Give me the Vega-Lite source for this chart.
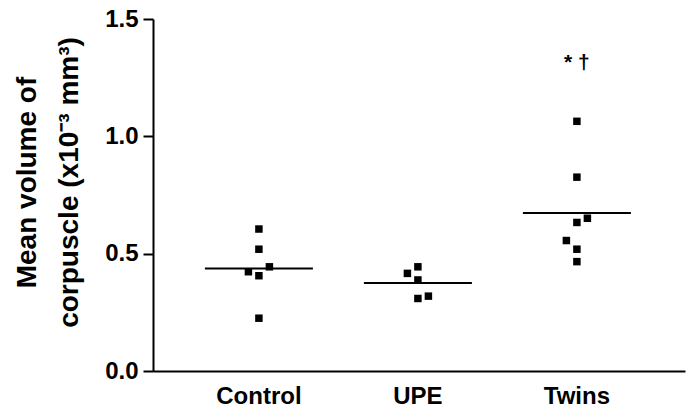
{
  "$schema": "https://vega.github.io/schema/vega-lite/v6.json",
  "width": 532,
  "height": 352,
  "autosize": {"type": "none"},
  "padding": {"left": 153, "top": 19, "right": 6, "bottom": 37},
  "background": "white",
  "config": {"view": {"stroke": null}, "font": "Liberation Sans"},
  "data": {
    "values": [
      {"group": "Control", "value": 0.605, "jitter": 0},
      {"group": "Control", "value": 0.519, "jitter": 0},
      {"group": "Control", "value": 0.444, "jitter": 1},
      {"group": "Control", "value": 0.423, "jitter": -1},
      {"group": "Control", "value": 0.406, "jitter": 0},
      {"group": "Control", "value": 0.225, "jitter": 0},
      {"group": "UPE", "value": 0.444, "jitter": 0},
      {"group": "UPE", "value": 0.416, "jitter": -1},
      {"group": "UPE", "value": 0.388, "jitter": 0},
      {"group": "UPE", "value": 0.319, "jitter": 1},
      {"group": "UPE", "value": 0.309, "jitter": 0},
      {"group": "Twins", "value": 1.064, "jitter": 0},
      {"group": "Twins", "value": 0.826, "jitter": 0},
      {"group": "Twins", "value": 0.651, "jitter": 1},
      {"group": "Twins", "value": 0.633, "jitter": 0},
      {"group": "Twins", "value": 0.556, "jitter": -1},
      {"group": "Twins", "value": 0.519, "jitter": 0},
      {"group": "Twins", "value": 0.466, "jitter": 0}
    ]
  },
  "encoding": {
    "x": {
      "field": "group",
      "type": "nominal",
      "sort": ["Control", "UPE", "Twins"],
      "scale": {"type": "band", "paddingInner": 0, "paddingOuter": 0.173, "align": 0.48},
      "axis": {
        "title": null,
        "labelAngle": 0,
        "ticks": false,
        "tickSize": 0,
        "labelPadding": 13,
        "labelFont": "Liberation Sans",
        "labelFontWeight": "bold",
        "labelFontSize": 24,
        "labelColor": "black",
        "domainColor": "black",
        "domainWidth": 2
      }
    },
    "y": {
      "field": "value",
      "type": "quantitative",
      "scale": {"domain": [0, 1.5], "nice": false, "zero": true},
      "axis": {
        "values": [0, 0.5, 1, 1.5],
        "format": ".1f",
        "grid": false,
        "tickSize": 10,
        "tickWidth": 2,
        "tickColor": "black",
        "domainWidth": 2,
        "domainColor": "black",
        "labelPadding": 5,
        "labelFont": "Liberation Sans",
        "labelFontSize": 24,
        "labelFontWeight": "bold",
        "labelColor": "black",
        "title": ["Mean volume of", "corpuscle (x10⁻³ mm³)"],
        "titleFont": "Liberation Sans",
        "titleFontSize": 28,
        "titleFontWeight": "bold",
        "titleColor": "black",
        "titleLineHeight": 42,
        "titleAngle": 270,
        "titleX": -118,
        "titleY": 163,
        "titleAlign": "center",
        "titleBaseline": "alphabetic"
      }
    }
  },
  "layer": [
    {
      "mark": {"type": "square", "size": 56, "color": "black", "opacity": 1, "filled": true},
      "encoding": {
        "xOffset": {"field": "jitter", "type": "quantitative", "scale": {"domain": [-7.57, 7.57], "nice": false, "zero": false}}
      }
    },
    {
      "mark": {"type": "tick", "color": "black", "thickness": 2, "size": 108, "opacity": 1},
      "encoding": {
        "y": {"aggregate": "mean", "field": "value", "type": "quantitative"}
      }
    },
    {
      "data": {"values": [{"group": "Twins", "value": 1.285, "label": "* †"}]},
      "mark": {"type": "text", "fontSize": 21, "fontWeight": "bold", "baseline": "alphabetic", "color": "black", "font": "Liberation Sans"},
      "encoding": {"text": {"field": "label"}}
    }
  ]
}
